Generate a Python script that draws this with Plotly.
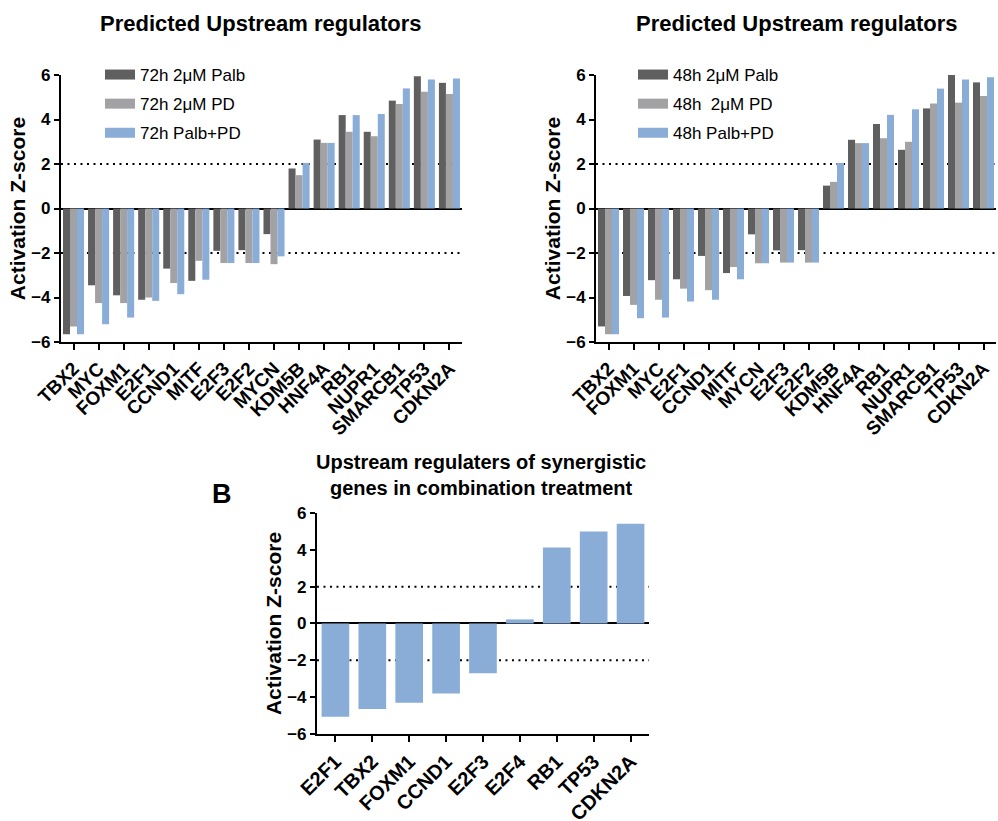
import plotly.graph_objects as go

# ---------------- data ----------------
cats_72 = ["TBX2", "MYC", "FOXM1", "E2F1", "CCND1", "MITF", "E2F3", "E2F2", "MYCN",
           "KDM5B", "HNF4A", "RB1", "NUPR1", "SMARCB1", "TP53", "CDKN2A"]
palb_72 = [-5.65, -3.45, -3.9, -4.1, -2.7, -3.25, -1.9, -1.87, -1.15, 1.8, 3.1, 4.2, 3.45, 4.85, 5.95, 5.65]
pd_72 = [-5.3, -4.25, -4.25, -4.0, -3.35, -2.35, -2.45, -2.45, -2.5, 1.5, 2.95, 3.45, 3.25, 4.7, 5.25, 5.15]
combo_72 = [-5.65, -5.2, -4.9, -4.15, -3.85, -3.2, -2.45, -2.45, -2.15, 2.05, 2.95, 4.2, 4.25, 5.4, 5.8, 5.85]

cats_48 = ["TBX2", "FOXM1", "MYC", "E2F1", "CCND1", "MITF", "MYCN", "E2F3", "E2F2",
           "KDM5B", "HNF4A", "RB1", "NUPR1", "SMARCB1", "TP53", "CDKN2A"]
palb_48 = [-5.3, -3.93, -3.22, -3.18, -2.13, -2.9, -1.16, -1.88, -1.87, 1.03, 3.09, 3.8, 2.64, 4.5, 6.0, 5.67]
pd_48 = [-5.65, -4.33, -4.1, -3.6, -3.67, -2.63, -2.46, -2.43, -2.43, 1.2, 2.94, 3.16, 3.0, 4.72, 4.76, 5.06]
combo_48 = [-5.65, -4.93, -4.9, -4.18, -4.1, -3.18, -2.46, -2.43, -2.43, 2.05, 2.94, 4.21, 4.46, 5.39, 5.8, 5.9]

cats_syn = ["E2F1", "TBX2", "FOXM1", "CCND1", "E2F3", "E2F4", "RB1", "TP53", "CDKN2A"]
vals_syn = [-5.06, -4.65, -4.3, -3.8, -2.7, 0.22, 4.12, 4.99, 5.42]

names_72 = ["72h 2μM Palb", "72h 2μM PD", "72h Palb+PD"]
names_48 = ["48h 2μM Palb", "48h\u00a0 2μM PD", "48h Palb+PD"]
thresholds = [2, -2]
y_ticks = [-6, -4, -2, 0, 2, 4, 6]

# ---------------- style ----------------
FONT = "Liberation Sans, Arial, sans-serif"
C_DARK = "#5f5f5f"
C_GRAY = "#a2a2a4"
C_BLUE = "#8aadd8"
colors = [C_DARK, C_GRAY, C_BLUE]

fig = go.Figure()

def add_group(cats, series, names, xa, ya, legend, prefix):
    for vals, nm, col in zip(series, names, colors):
        grp = prefix + nm
        fig.add_trace(go.Bar(x=cats, y=vals, name=nm, marker=dict(color=col, line=dict(width=0)),
                             xaxis=xa, yaxis=ya, showlegend=False, legendgroup=grp, legend=legend))
        fig.add_trace(go.Scatter(x=[None], y=[None], mode="lines", name=nm,
                                 line=dict(color=col, width=10), xaxis=xa, yaxis=ya,
                                 showlegend=True, legendgroup=grp, legend=legend))

add_group(cats_72, [palb_72, pd_72, combo_72], names_72, "x", "y", "legend", "a")
add_group(cats_48, [palb_48, pd_48, combo_48], names_48, "x2", "y2", "legend2", "b")

fig.add_trace(go.Bar(x=cats_syn, y=vals_syn, marker=dict(color=C_BLUE, line=dict(width=0)),
                     xaxis="x3", yaxis="y3", showlegend=False, width=0.75, offset=-0.375))

xdom = {"x": [0.0611, 0.4629], "x2": [0.5972, 0.998], "x3": [0.3176, 0.6503]}
ydom = {"y": [0.5834, 0.9086], "y2": [0.5834, 0.9086], "y3": [0.1060, 0.3752]}

def xaxis_style(dom, anchor, size):
    return dict(domain=dom, anchor=anchor, type="category", showline=True, linecolor="black",
                linewidth=2, ticks="outside", ticklen=6, tickwidth=2, tickcolor="black",
                tickangle=-45, automargin=False,
                tickfont=dict(family=FONT, size=size, color="black", weight="bold"),
                showgrid=False, zeroline=False)

def yaxis_style(dom, anchor):
    return dict(domain=dom, anchor=anchor, range=[-6, 6], tickvals=y_ticks, showline=True,
                linecolor="black", linewidth=2, ticks="outside", ticklen=5, tickwidth=2,
                tickcolor="black", showgrid=False, zeroline=True, zerolinecolor="black",
                zerolinewidth=2, automargin=False,
                tickfont=dict(family=FONT, size=17, color="black", weight="bold"),
                title=dict(text="Activation Z-score", standoff=0,
                           font=dict(family=FONT, size=21, color="black", weight="bold")))

fig.update_layout(
    xaxis=xaxis_style(xdom["x"], "y", 19),
    xaxis2=xaxis_style(xdom["x2"], "y2", 19),
    xaxis3=xaxis_style(xdom["x3"], "y3", 20),
    yaxis=yaxis_style(ydom["y"], "x"),
    yaxis2=yaxis_style(ydom["y2"], "x2"),
    yaxis3=yaxis_style(ydom["y3"], "x3"),
)

# threshold reference lines
shapes = []
for ax_x, ax_y in [("x", "y"), ("x2", "y2"), ("x3", "y3")]:
    for t in thresholds:
        shapes.append(dict(type="line", xref=f"{ax_x} domain", yref=ax_y, x0=0, x1=1, y0=t, y1=t,
                           line=dict(color="black", width=2, dash="2px,4.5px"), layer="below"))

legend_common = dict(font=dict(family=FONT, size=17, color="black"), bgcolor="rgba(0,0,0,0)",
                     xanchor="left", yanchor="top", tracegroupgap=4, itemwidth=30,
                     traceorder="grouped")

def ann(text, x, y, size):
    return dict(text=text, x=x / 998, y=1 - y / 821, xref="paper", yref="paper", showarrow=False,
                xanchor="center", yanchor="middle",
                font=dict(family=FONT, size=size, color="black", weight="bold"))

annotations = [
    ann("Predicted Upstream regulators", 261, 24, 22),
    ann("Predicted Upstream regulators", 797, 24, 22),
    ann("Upstream regulaters of synergistic<br>genes in combination treatment", 481, 475, 20),
    ann("B", 222, 494, 27),
]

fig.update_layout(
    width=998, height=821,
    margin=dict(l=0, r=0, t=0, b=0),
    paper_bgcolor="white", plot_bgcolor="white",
    barmode="group", bargap=0.16, bargroupgap=0,
    shapes=shapes, annotations=annotations,
    legend=dict(x=100 / 998, y=1 - 57 / 821, **legend_common),
    legend2=dict(x=633 / 998, y=1 - 57 / 821, **legend_common),
    font=dict(family=FONT, color="black"),
)

fig.write_html("out.html", config={"displayModeBar": False},
               post_script="document.body.style.margin='0';")
